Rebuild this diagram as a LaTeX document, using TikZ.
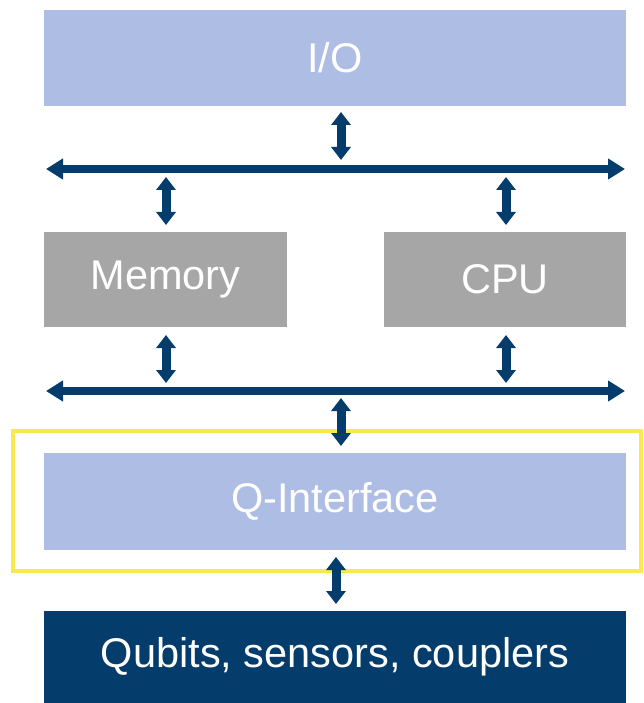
\documentclass[tikz,border=0pt]{standalone}
\usepackage{fontspec}
\setmainfont{Liberation Sans}
\usetikzlibrary{arrows.meta}
\definecolor{lblue}{RGB}{174,189,228}
\definecolor{mgray}{RGB}{166,166,166}
\definecolor{dblue}{RGB}{4,60,108}
\definecolor{qyellow}{RGB}{250,232,80}
\begin{document}
\begin{tikzpicture}[x=1pt,y=-1pt,
  box/.style={draw=none,inner sep=0pt,text=white,font=\fontsize{41.5}{45}\selectfont},
  bus/.style={dblue,line width=8pt,{Triangle[width=20pt,length=17pt]}-{Triangle[width=20pt,length=17pt]}},
  link/.style={dblue,line width=9pt,{Triangle[width=19pt,length=13pt]}-{Triangle[width=19pt,length=13pt]}}]
\useasboundingbox (0,0) rectangle (644,703);
\node[box,fill=lblue,minimum width=582pt,minimum height=96pt] (io) at (335,58) {I/O};
\node[box,fill=mgray,minimum width=243pt,minimum height=95pt] (mem) at (165.5,279.5) {Memory};
\node[box,fill=mgray,minimum width=242pt,minimum height=95pt] (cpu) at (505,279.5) {CPU};
\node[draw=qyellow,line width=4pt,minimum width=628pt,minimum height=140pt,inner sep=0pt] (frame) at (327,501) {};
\node[box,fill=lblue,minimum width=582pt,minimum height=97pt] (qi) at (335,501.5) {Q-Interface};
\node[box,fill=dblue,minimum width=582pt,minimum height=92pt] (qb) at (335,657) {\raisebox{-5pt}{Qubits, sensors, couplers}};
% buses
\coordinate (b1l) at (46,169); \coordinate (b1r) at (625,169);
\coordinate (b2l) at (46,391); \coordinate (b2r) at (625,391);
\draw[bus] (b1l) -- (b1r);
\draw[bus] (b2l) -- (b2r);
% links
\coordinate (a1s) at (341,112); \coordinate (a1e) at (341,160);
\coordinate (a2s) at (166,177); \coordinate (a2e) at (166,225);
\coordinate (a3s) at (506,177); \coordinate (a3e) at (506,225);
\coordinate (a4s) at (166,335); \coordinate (a4e) at (166,383);
\coordinate (a5s) at (506,335); \coordinate (a5e) at (506,383);
\coordinate (a6s) at (341,398); \coordinate (a6e) at (341,446);
\coordinate (a7s) at (336,557); \coordinate (a7e) at (336,604);
\draw[link] (a1s) -- (a1e);
\draw[link] (a2s) -- (a2e);
\draw[link] (a3s) -- (a3e);
\draw[link] (a4s) -- (a4e);
\draw[link] (a5s) -- (a5e);
\draw[link] (a6s) -- (a6e);
\draw[link] (a7s) -- (a7e);
\end{tikzpicture}
\end{document}
